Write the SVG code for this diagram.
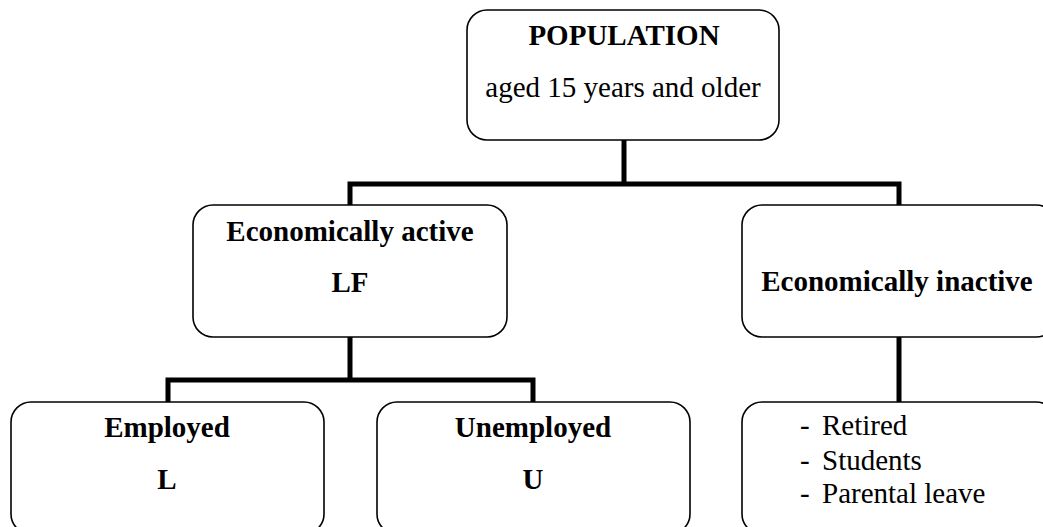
<svg xmlns="http://www.w3.org/2000/svg" width="1043" height="527" viewBox="0 0 1043 527">
<style>
.box{fill:#fff;stroke:#000;stroke-width:1.6}
.conn{fill:none;stroke:#000;stroke-width:5;stroke-linejoin:miter;stroke-linecap:butt}
text{font-family:"Liberation Serif","Times New Roman",serif;font-size:29px;fill:#000}
.b{font-weight:bold}
.c{text-anchor:middle}
</style>
<rect width="1043" height="527" fill="#fff"/>
<g id="connectors">
<path class="conn" d="M624,140 V184"/>
<path class="conn" d="M350,205 V184 H899 V205"/>
<path class="conn" d="M350,337 V380"/>
<path class="conn" d="M168,402 V380 H533 V402"/>
<path class="conn" d="M899,337 V402"/>
</g>
<g id="population">
<rect class="box" x="467" y="10" width="312" height="130" rx="20"/>
<text class="b c" x="624" y="45">POPULATION</text>
<text class="c" x="623" y="97">aged 15 years and older</text>
</g>
<g id="active">
<rect class="box" x="193" y="205" width="314" height="132" rx="20"/>
<text class="b c" x="350" y="241">Economically active</text>
<text class="b c" x="350" y="292">LF</text>
</g>
<g id="inactive">
<rect class="box" x="742" y="205" width="314" height="132" rx="20"/>
<text class="b c" x="897" y="291">Economically inactive</text>
</g>
<g id="employed">
<rect class="box" x="11" y="402" width="313" height="132" rx="20"/>
<text class="b c" x="167" y="437">Employed</text>
<text class="b c" x="167" y="489">L</text>
</g>
<g id="unemployed">
<rect class="box" x="377" y="402" width="313" height="132" rx="20"/>
<text class="b c" x="533" y="437">Unemployed</text>
<text class="b c" x="533" y="489">U</text>
</g>
<g id="inactive-list">
<rect class="box" x="742" y="402" width="314" height="132" rx="20"/>
<text x="800" y="435">-</text><text x="822" y="435">Retired</text>
<text x="800" y="470">-</text><text x="822" y="470">Students</text>
<text x="800" y="503">-</text><text x="822" y="503">Parental leave</text>
</g>
</svg>
